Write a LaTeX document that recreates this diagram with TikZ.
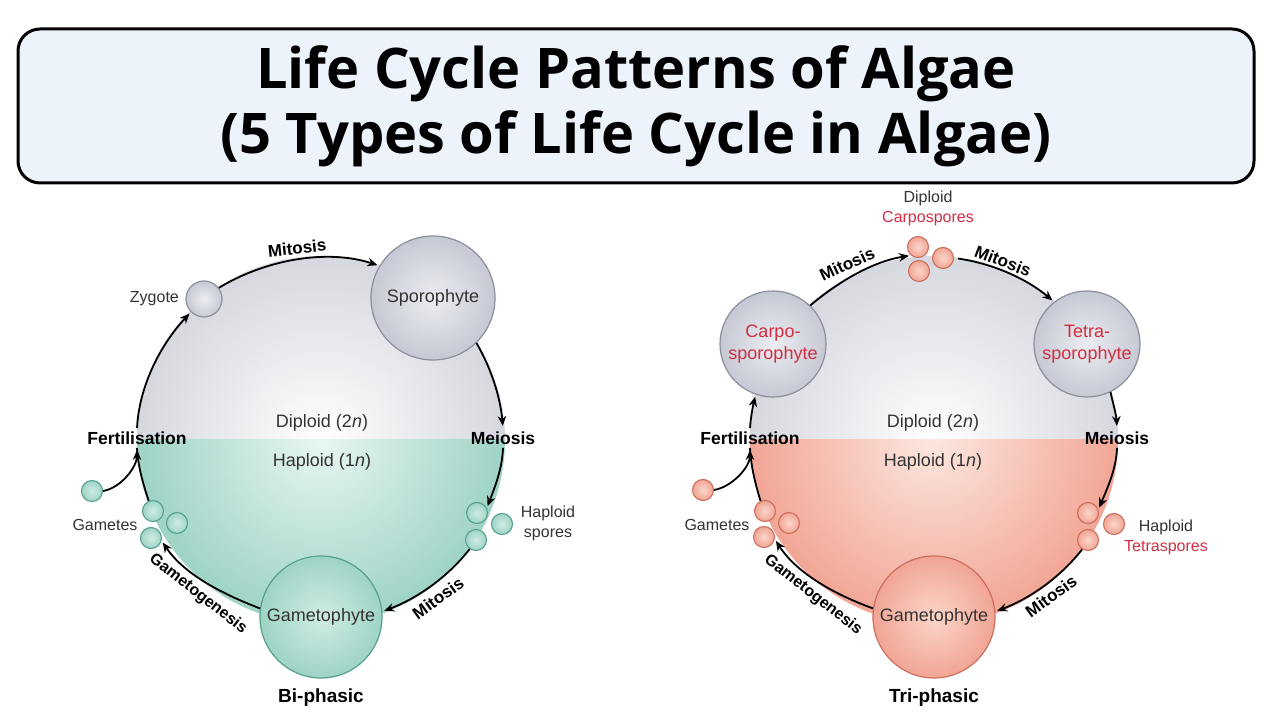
\documentclass[tikz,border=0pt]{standalone}
\usepackage{fontspec}
\setmainfont{Liberation Sans}
\newfontfamily\titlefont{Open Sans}
\usepackage{tikz}
\usetikzlibrary{arrows.meta,positioning}

\begin{document}
\begin{tikzpicture}[x=1pt, y=1pt,
    titlebox/.style={rectangle, draw=black, line width=3pt, rounded corners=22pt, fill=titlebg, minimum width=1236pt, minimum height=154pt, align=center, font=\titlefont\bfseries\fontsize{56}{65}\selectfont},
    greycell/.style={circle, draw=greyline, line width=1.2pt, inner color=greyin, outer color=greyout, inner sep=0pt, align=center, text=black!80, font=\fontsize{18}{22}\selectfont},
    tealcell/.style={circle, draw=tealline, line width=1.2pt, inner color=tealcellin, outer color=tealcellout, inner sep=0pt, text=black!80, font=\fontsize{18}{22}\selectfont},
    pinkcell/.style={circle, draw=pinkline, line width=1.2pt, inner color=pinkcellin, outer color=pinkcellout, inner sep=0pt, text=black!80, font=\fontsize{18}{22}\selectfont},
    tealspore/.style={circle, draw=tealline, line width=1.1pt, inner color=tealcellin, outer color=tealcellout, minimum size=21pt, inner sep=0pt},
    pinkspore/.style={circle, draw=pinkline, line width=1.1pt, inner color=pinkcellin, outer color=pinkcellout, minimum size=21pt, inner sep=0pt},
    lbl/.style={align=center, text=black!80, font=\fontsize{16}{20}\selectfont},
    phase/.style={text=black!80, font=\fontsize{18}{22}\selectfont},
    stage/.style={font=\bfseries\fontsize{17.5}{20}\selectfont},
    turn/.style={font=\bfseries\fontsize{17}{20}\selectfont},
    type/.style={font=\bfseries\fontsize{19}{22}\selectfont},
    cyc/.style={line width=1.8pt, looseness=0.87, shorten >=2pt, -{Stealth[length=10pt, width=8.5pt]}},
    plain/.style={line width=1.8pt, looseness=0.87}
]

% Colours
\definecolor{titlebg}{RGB}{236,243,251}
\definecolor{greyline}{RGB}{140,143,156}
\definecolor{greyin}{RGB}{236,237,242}
\definecolor{greyout}{RGB}{198,201,211}
\definecolor{topgrey}{RGB}{214,216,223}
\definecolor{tealin}{RGB}{232,246,242}
\definecolor{tealout}{RGB}{158,211,198}
\definecolor{tealline}{RGB}{88,160,143}
\definecolor{tealcellin}{RGB}{208,237,229}
\definecolor{tealcellout}{RGB}{158,211,198}
\definecolor{pinkin}{RGB}{252,231,224}
\definecolor{pinkout}{RGB}{242,166,149}
\definecolor{pinkline}{RGB}{205,110,95}
\definecolor{pinkcellin}{RGB}{251,214,202}
\definecolor{pinkcellout}{RGB}{241,165,148}
\definecolor{sporered}{RGB}{210,45,65}

\fill[white] (0,0) rectangle (1280,720);
\useasboundingbox (0,0) rectangle (1280,720);

% Title
\node[titlebox] (title) at (636,614) {Life Cycle Patterns of Algae\\(5 Types of Life Cycle in Algae)};

% Bi-phasic cycle: halves
\coordinate (lc) at (321,280);
\begin{scope}
  \clip (lc) ++(-184,0) rectangle ++(368,184);
  \shade[inner color=white, outer color=topgrey] (lc) circle (184);
\end{scope}
\begin{scope}
  \clip (lc) ++(-184,0) rectangle ++(368,-184);
  \shade[inner color=tealin, outer color=tealout] (lc) circle (184);
\end{scope}

% Tri-phasic cycle: halves
\coordinate (rc) at (934,280);
\begin{scope}
  \clip (rc) ++(-184,0) rectangle ++(368,184);
  \shade[inner color=white, outer color=topgrey] (rc) circle (184);
\end{scope}
\begin{scope}
  \clip (rc) ++(-184,0) rectangle ++(368,-184);
  \shade[inner color=pinkin, outer color=pinkout] (rc) circle (184);
\end{scope}

% Bi-phasic nodes
\node[greycell, minimum size=36pt] (zyg) at (204,421) {};
\node[lbl, left=3pt of zyg] (zyglbl) {Zygote};
\node[greycell, minimum size=124pt] (spor) at (433,422) {Sporophyte};
\node[stage] (fert) at (137,282) {Fertilisation};
\node[stage] (meio) at (503,282) {Meiosis};
\node[phase] (dip) at (322,297) {Diploid (2\textit{n})};
\node[phase] (hap) at (322,258) {Haploid (1\textit{n})};
\node[tealcell, minimum size=122pt] (gam) at (321,103) {Gametophyte};
\node[tealspore] (sl1) at (477,207) {};
\node[tealspore] (sl2) at (502,196) {};
\node[tealspore] (sl3) at (476,180) {};
\node[lbl] (spolbl) at (548,197) {Haploid\\spores};
\node[tealspore] (gl1) at (153,209) {};
\node[tealspore] (gl2) at (177,197) {};
\node[tealspore] (gl3) at (151,182) {};
\node[tealspore] (glo) at (92,229) {};
\node[lbl] (gamlbl) at (105,195) {Gametes};
\node[turn, rotate=6] (mit1) at (297,472) {Mitosis};
\node[turn, rotate=36] (mit2) at (438,122) {Mitosis};
\node[turn, font=\bfseries\fontsize{16}{20}\selectfont, rotate=-38] (gtg1) at (198,126) {Gametogenesis};
\node[type] (bi) at (321,22) {Bi-phasic};

% Bi-phasic connections
\draw[cyc] (fert.north) to[out=87, in=227] (zyg.225);
\draw[cyc] (zyg.37) to[out=31, in=162] (spor.149);
\draw[cyc] (spor.314) to[out=-60, in=95] (meio.north);
\draw[cyc] (meio.south) to[out=-92, in=69] (sl1.27);
\draw[cyc] (sl3.235) to[out=-128, in=21] (gam.5);
\draw[cyc] (gam.172) to[out=159, in=-56] (gl3.-15);
\draw[plain] (gl1.113) to[out=108, in=-87] (fert.south);
\draw[cyc] (glo.east) to[out=10, in=-90] (fert.south);

% Tri-phasic nodes
\node[greycell, minimum size=106pt, text=sporered] (carpo) at (773,376) {Carpo-\\sporophyte};
\node[greycell, minimum size=106pt, text=sporered] (tetra) at (1087,376) {Tetra-\\sporophyte};
\node[pinkspore] (cs1) at (918,473) {};
\node[pinkspore] (cs2) at (943,462) {};
\node[pinkspore] (cs3) at (919,449) {};
\node[lbl] (cslbl) at (928,512) {Diploid\\\textcolor{sporered}{Carpospores}};
\node[stage] (fert2) at (750,282) {Fertilisation};
\node[stage] (meio2) at (1117,282) {Meiosis};
\node[phase] (dip2) at (933,297) {Diploid (2\textit{n})};
\node[phase] (hap2) at (933,258) {Haploid (1\textit{n})};
\node[pinkcell, minimum size=122pt] (gam2) at (934,103) {Gametophyte};
\node[pinkspore] (ts1) at (1088,207) {};
\node[pinkspore] (ts2) at (1114,196) {};
\node[pinkspore] (ts3) at (1088,180) {};
\node[lbl] (tslbl) at (1166,183) {Haploid\\\textcolor{sporered}{Tetraspores}};
\node[pinkspore] (gr1) at (765,209) {};
\node[pinkspore] (gr2) at (789,197) {};
\node[pinkspore] (gr3) at (764,183) {};
\node[pinkspore] (glo2) at (703,230) {};
\node[lbl] (gamlbl2) at (717,195) {Gametes};
\node[turn, rotate=25] (mit3) at (847,456) {Mitosis};
\node[turn, rotate=-21] (mit4) at (1003,459) {Mitosis};
\node[turn, rotate=36] (mit5) at (1051,124) {Mitosis};
\node[turn, font=\bfseries\fontsize{16}{20}\selectfont, rotate=-38] (gtg2) at (813,125) {Gametogenesis};
\node[type] (tri) at (934,22) {Tri-phasic};

% Tri-phasic connections
\draw[cyc] (fert2.north) to[out=86, in=257] (carpo.251);
\draw[cyc] (carpo.46) to[out=40, in=189] (cs1.230);
\draw[cyc, shorten <=4pt] (cs2.east) to[out=-8, in=140] (tetra.128);
\draw[cyc] (tetra.-64) to[out=-77, in=93] (meio2.north);
\draw[cyc] (meio2.south) to[out=-92, in=68] (ts1.18);
\draw[cyc] (ts3.238) to[out=-128, in=21] (gam2.5);
\draw[cyc] (gam2.172) to[out=160, in=-57] (gr3.-12);
\draw[plain] (gr1.114) to[out=107, in=-87] (fert2.south);
\draw[cyc] (glo2.east) to[out=10, in=-90] (fert2.south);

\end{tikzpicture}
\end{document}
